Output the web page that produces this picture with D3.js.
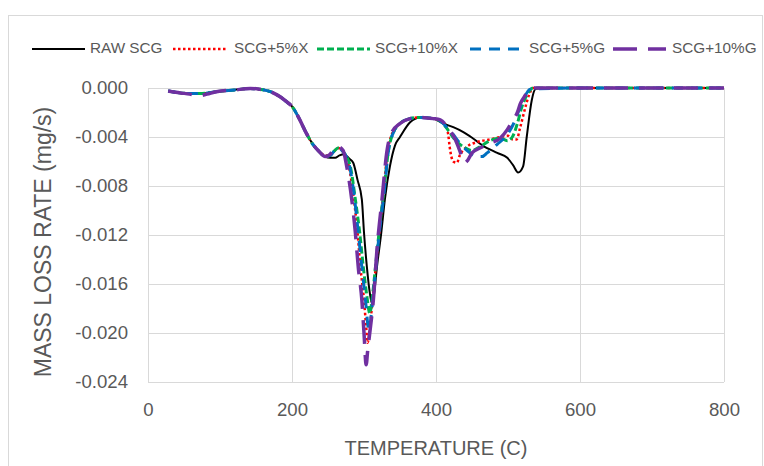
<!DOCTYPE html>
<html><head><meta charset="utf-8">
<script src="https://cdn.jsdelivr.net/npm/d3@7"></script>
<style>body{margin:0;background:#fff}svg{display:block}</style>
</head><body>
<svg id="chart" width="764" height="466"></svg>
<script>
// ---------- data ----------
const seriesNames = ["RAW SCG", "SCG+5%X", "SCG+10%X", "SCG+5%G", "SCG+10%G"];
const xTicks = [0, 200, 400, 600, 800];
const yTicks = [0, -0.004, -0.008, -0.012, -0.016, -0.020, -0.024];
const yTickLabels = ["0.000", "-0.004", "-0.008", "-0.012", "-0.016", "-0.020", "-0.024"];

const rawTemp = [28,45,58,75,95,120,142,155,170,183,192,200,210,220,229,238,246,253,260,266,272,280,285,291,297,300,304,308,311,314,318,324,329,336,343,350,364,378,396,410,424,438,451,465,485,499,507,514,521,526,533,538,545,600,700,800];
const rawRate = [-0.00024,-0.0004,-0.00045,-0.00045,-0.0003,-0.00016,-0.00004,-0.0001,-0.0003,-0.0007,-0.0011,-0.0015,-0.0025,-0.0037,-0.0046,-0.0052,-0.0056,-0.0057,-0.0057,-0.0055,-0.0054,-0.0058,-0.0061,-0.0075,-0.0091,-0.0118,-0.0146,-0.0167,-0.0176,-0.0168,-0.0146,-0.0118,-0.0091,-0.0064,-0.0047,-0.0040,-0.0028,-0.0024,-0.0025,-0.0029,-0.0032,-0.0036,-0.0041,-0.0047,-0.0053,-0.0057,-0.0063,-0.0069,-0.0064,-0.0040,-0.0010,-0.0001,0,0,0,0];

const x5Temp = [28,45,58,75,95,120,142,155,170,183,192,200,210,220,229,238,246,253,258,264,271,279,286,291,295,300,303,305,309,314,320,326,333,340,350,364,378,396,406,414,417,419,424,429,433,443,458,475,489,500,507,512,517,524,529,535,600,700,800];
const x5Rate = [-0.00024,-0.0004,-0.00045,-0.00045,-0.0003,-0.00016,-0.00004,-0.0001,-0.0003,-0.0007,-0.0011,-0.0015,-0.0025,-0.0037,-0.0046,-0.0052,-0.0055,-0.0055,-0.0052,-0.0049,-0.0052,-0.0064,-0.0091,-0.0118,-0.0146,-0.0173,-0.0195,-0.0208,-0.0190,-0.0160,-0.0125,-0.0091,-0.0051,-0.0036,-0.0029,-0.0025,-0.0024,-0.0025,-0.0027,-0.0031,-0.0038,-0.0048,-0.0060,-0.0061,-0.0055,-0.0048,-0.0044,-0.0042,-0.0040,-0.0039,-0.0042,-0.0042,-0.0032,-0.0016,-0.0006,0,0,0,0];

const x10Temp = [28,45,58,75,95,120,142,155,170,183,192,200,210,220,229,238,246,253,258,264,271,281,288,294,299,304,308,312,317,322,328,334,341,350,364,378,396,406,415,426,438,450,461,475,489,499,506,513,519,526,535,600,700,800];
const x10Rate = [-0.00024,-0.0004,-0.00045,-0.00045,-0.0003,-0.00016,-0.00004,-0.0001,-0.0003,-0.0007,-0.0011,-0.0015,-0.0025,-0.0037,-0.0046,-0.0052,-0.0056,-0.0055,-0.0052,-0.0049,-0.0052,-0.0064,-0.0091,-0.0118,-0.0146,-0.0170,-0.0184,-0.0168,-0.0140,-0.0112,-0.0082,-0.0051,-0.0036,-0.0029,-0.0025,-0.0024,-0.0025,-0.0027,-0.0033,-0.0042,-0.0048,-0.0051,-0.0048,-0.0043,-0.0041,-0.0043,-0.0040,-0.0029,-0.0016,-0.0006,0,0,0,0];

const g5Temp = [28,45,58,75,95,120,142,155,170,183,192,200,210,220,229,238,246,253,258,264,271,280,287,292,297,302,307,311,316,321,328,334,341,350,364,378,396,406,415,424,433,443,457,464,471,485,499,507,514,521,531,600,700,800];
const g5Rate = [-0.00024,-0.0004,-0.00045,-0.00045,-0.0003,-0.00016,-0.00004,-0.0001,-0.0003,-0.0007,-0.0011,-0.0015,-0.0025,-0.0037,-0.0046,-0.0052,-0.0056,-0.0055,-0.0052,-0.0049,-0.0052,-0.0064,-0.0091,-0.0118,-0.0146,-0.0173,-0.0198,-0.0180,-0.0150,-0.0120,-0.0085,-0.0051,-0.0036,-0.0029,-0.0025,-0.0024,-0.0025,-0.0027,-0.0032,-0.0038,-0.0045,-0.0051,-0.0056,-0.0056,-0.0053,-0.0046,-0.0038,-0.0030,-0.0020,-0.0010,-0.0001,0,0,0];

const g10Temp = [28,45,58,70,82,95,120,142,155,170,183,192,200,210,220,229,238,246,253,258,264,271,276,283,288,292,297,300,303,305,308,313,318,325,332,338,350,364,378,396,406,417,426,431,436,440,444,450,461,475,489,499,506,513,517,524,533,600,700,800];
const g10Rate = [-0.00024,-0.0004,-0.0005,-0.00065,-0.0005,-0.0003,-0.00016,-0.00004,-0.0001,-0.0003,-0.0007,-0.0011,-0.0015,-0.0025,-0.0037,-0.0046,-0.0052,-0.0056,-0.0054,-0.0050,-0.0048,-0.0051,-0.0064,-0.0091,-0.0118,-0.0146,-0.0173,-0.0200,-0.0226,-0.0215,-0.0200,-0.0173,-0.0132,-0.0091,-0.0051,-0.0037,-0.0029,-0.0025,-0.0024,-0.0025,-0.0026,-0.0033,-0.0041,-0.0048,-0.0056,-0.0061,-0.0059,-0.0053,-0.0049,-0.0045,-0.0041,-0.0034,-0.0027,-0.0020,-0.0013,-0.0006,0,0,0,0];

const seriesTemps = [rawTemp, x5Temp, x10Temp, g5Temp, g10Temp];
const seriesRates = [rawRate, x5Rate, x10Rate, g5Rate, g10Rate];

// ---------- styles ----------
const colors = ["#000000", "#ff0000", "#00b050", "#0070c0", "#7030a0"];
const widths = [2, 2.5, 3, 3, 3.5];
const dashes = [null, "2.5,2.5", "7,3", "11,8", "24,11"];
const textColor = "#595959";
const gridColor = "#d9d9d9";
const font = "'Liberation Sans', Arial, sans-serif";

const svg = d3.select("#chart");
svg.append("rect").attr("width", 764).attr("height", 466).attr("fill", "#fff");
svg.append("rect").attr("x", 8.5).attr("y", 15.5).attr("width", 754).attr("height", 470)
  .attr("fill", "none").attr("stroke", gridColor).attr("stroke-width", 1);

const xS = d3.scaleLinear().domain([0, 800]).range([148, 724]);
const yS = d3.scaleLinear().domain([-0.024, 0]).range([382, 88]);

// y axis with gridlines
const yAx = svg.append("g").attr("transform", "translate(148,0)")
  .call(d3.axisLeft(yS).tickValues(yTicks).tickSize(-576).tickPadding(20)
    .tickFormat((d, i) => yTickLabels[i]));
yAx.select(".domain").remove();
yAx.selectAll("line").attr("stroke", gridColor).attr("shape-rendering", "crispEdges");
yAx.selectAll("text").attr("fill", textColor).style("font-family", font).style("font-size", "18.6px");

// x axis with gridlines
const xAx = svg.append("g").attr("transform", "translate(0,382)")
  .call(d3.axisBottom(xS).tickValues(xTicks).tickSize(-294).tickPadding(21));
xAx.select(".domain").remove();
xAx.selectAll("line").attr("stroke", gridColor).attr("shape-rendering", "crispEdges");
xAx.selectAll("text").attr("fill", textColor).style("font-family", font).style("font-size", "18.6px");

// lines
const line = d3.line().curve(d3.curveMonotoneX);
seriesNames.forEach((name, i) => {
  const pts = seriesTemps[i].map((t, j) => [xS(t), yS(seriesRates[i][j])]);
  svg.append("path").attr("d", line(pts)).attr("fill", "none")
    .attr("stroke", colors[i]).attr("stroke-width", widths[i])
    .attr("stroke-dasharray", dashes[i]).attr("stroke-linejoin", "round");
});

// axis titles
svg.append("text").attr("x", 436).attr("y", 450).attr("text-anchor", "middle")
  .attr("dominant-baseline", "middle").attr("fill", textColor)
  .style("font-family", font).style("font-size", "20px").text("TEMPERATURE (C)");
svg.append("text").attr("transform", "translate(45,242) rotate(-90)").attr("text-anchor", "middle")
  .attr("dominant-baseline", "middle").attr("fill", textColor)
  .style("font-family", font).style("font-size", "23px").text("MASS LOSS RATE (mg/s)");

// legend
const legendX = [32, 173, 317, 470, 613];
const legendTextX = [90, 234, 375, 529, 672];
const lg = svg.append("g");
seriesNames.forEach((name, i) => {
  lg.append("line").attr("x1", legendX[i]).attr("x2", legendX[i] + 53).attr("y1", 49).attr("y2", 49)
    .attr("stroke", colors[i]).attr("stroke-width", widths[i]).attr("stroke-dasharray", dashes[i]);
  lg.append("text").attr("x", legendTextX[i]).attr("y", 49).attr("dominant-baseline", "middle")
    .attr("fill", textColor).style("font-family", font).style("font-size", "15.3px").text(name);
});
</script>
</body></html>
